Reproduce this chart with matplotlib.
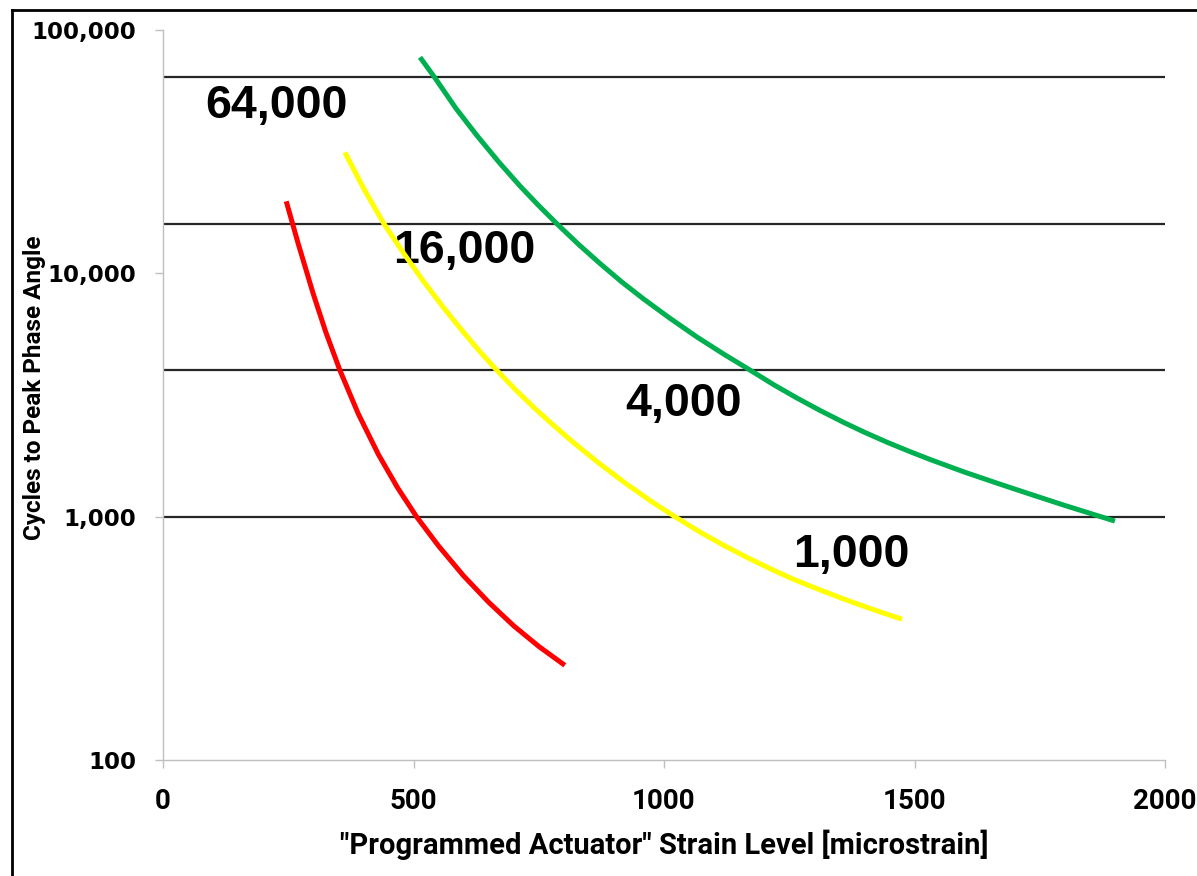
import matplotlib
matplotlib.use("Agg")
import matplotlib.pyplot as plt
from matplotlib.lines import Line2D
from matplotlib.ticker import FixedLocator, FuncFormatter, NullLocator

# Strain level [microstrain] vs cycles to peak phase angle, one curve per actuator band
red_strain = [246, 270, 300, 325, 353, 390, 430, 468, 506, 550, 600, 650, 700, 750, 802]
red_cycles = [19770, 13210, 8220, 5730, 4000, 2640, 1800, 1317, 1000, 758, 571, 445, 356, 293, 245]

yellow_strain = [363, 401, 440, 480, 520, 561, 603, 634, 666, 704, 742, 780, 819, 870,
                 922, 975, 1025, 1075, 1121, 1170, 1218, 1260, 1304, 1350, 1391, 1433, 1475]
yellow_cycles = [31400, 22230, 16100, 12110, 9270, 7180, 5620, 4730, 4000, 3317, 2786, 2368, 2018, 1659,
                 1377, 1154, 990, 857, 759, 673, 603, 551, 507, 466, 434, 405, 379]

green_strain = [513, 543, 585, 626, 670, 713, 750, 786, 830, 873, 916, 959, 1010, 1066, 1120,
                1172, 1220, 1265, 1310, 1358, 1400, 1445, 1490, 1531, 1600, 1667, 1730, 1800, 1900]
green_cycles = [77270, 63500, 47530, 36980, 28710, 22800, 18970, 16000, 13120, 10940, 9204, 7852, 6577, 5470, 4645,
                4000, 3475, 3076, 2742, 2443, 2223, 2023, 1854, 1718, 1524, 1368, 1239, 1112, 959]

# Reference levels drawn as horizontal lines, with their labels
levels = [64000, 16000, 4000, 1000]
level_labels = ["64,000", "16,000", "4,000", "1,000"]
label_x = [84, 460, 922, 1258]
label_y = [43500, 11070, 2594, 624]

x_ticks = [0, 500, 1000, 1500, 2000]
y_ticks = [100, 1000, 10000, 100000]

W, H = 1197, 876
fig = plt.figure(figsize=(W / 100, H / 100), dpi=100)
ax = fig.add_axes([163 / W, 1 - 760 / H, (1165 - 163) / W, (760 - 30) / H])

ax.set_yscale("log")
ax.set_xlim(0, 2000)
ax.set_ylim(100, 100000)

for lvl in levels:
    ax.axhline(lvl, color="#262626", lw=1.6, zorder=1)

label_font = dict(family=["Liberation Sans", "DejaVu Sans"], weight="bold", size=33.5)
for txt, lx, ly in zip(level_labels, label_x, label_y):
    ax.text(lx, ly, txt, ha="left", va="baseline", color="black", zorder=2, **label_font)

curve_kw = dict(lw=3.6, solid_capstyle="butt", solid_joinstyle="round", zorder=3)
ax.plot(red_strain, red_cycles, color="#FF0000", **curve_kw)
ax.plot(yellow_strain, yellow_cycles, color="#FFFF00", **curve_kw)
ax.plot(green_strain, green_cycles, color="#00B050", **curve_kw)

for side in ("top", "right"):
    ax.spines[side].set_visible(False)
for side in ("left", "bottom"):
    ax.spines[side].set_color("#BFBFBF")
    ax.spines[side].set_linewidth(1.0)

ax.xaxis.set_major_locator(FixedLocator(x_ticks))
ax.yaxis.set_major_locator(FixedLocator(y_ticks))
ax.yaxis.set_minor_locator(NullLocator())
ax.xaxis.set_minor_locator(NullLocator())
ax.yaxis.set_major_formatter(FuncFormatter(lambda v, p: f"{int(round(v)):,}"))
ax.xaxis.set_major_formatter(FuncFormatter(lambda v, p: f"{int(round(v))}"))

ax.tick_params(axis="both", which="major", direction="out", length=6, width=1.0, color="#BFBFBF")
ax.tick_params(axis="y", pad=13)
ax.tick_params(axis="x", pad=14)

title_font = ["Roboto", "DejaVu Sans"]
for lab in ax.get_yticklabels():
    lab.set_fontfamily(["DejaVu Sans"])
    lab.set_fontweight("bold")
    lab.set_fontsize(16.5)
for lab in ax.get_xticklabels():
    lab.set_fontfamily(title_font)
    lab.set_fontweight("bold")
    lab.set_fontsize(20)

ax.set_xlabel('"Programmed Actuator" Strain Level [microstrain]', family=title_font,
              weight="bold", fontsize=21, va="center")
ax.xaxis.set_label_coords(664 / W, 1 - 845 / H, transform=fig.transFigure)
ax.set_ylabel("Cycles to Peak Phase Angle", family=title_font, weight="bold",
              fontsize=17.5, va="center")
ax.yaxis.set_label_coords(35 / W, 1 - 388 / H, transform=fig.transFigure)

# Frame around the chart area (left and top edges)
top = 1 - 10 / H
left = 12 / W
fig.add_artist(Line2D([left, left], [0, top], transform=fig.transFigure, color="black", lw=2.0))
fig.add_artist(Line2D([left, 1], [top, top], transform=fig.transFigure, color="black", lw=2.0))

fig.savefig("out.png", dpi=100, facecolor="white")
